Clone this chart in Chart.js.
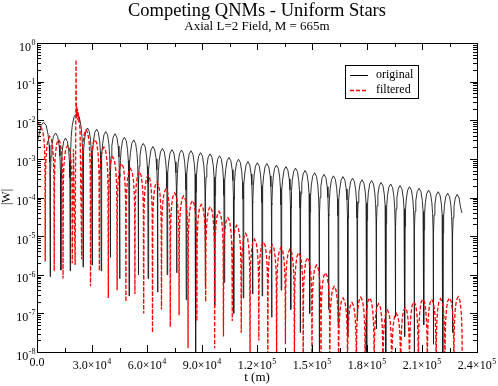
<!DOCTYPE html>
<html>
<head>
<meta charset="utf-8">
<title>Competing QNMs - Uniform Stars</title>
<script src="https://cdn.jsdelivr.net/npm/chart.js@4.4.1/dist/chart.umd.min.js"></script>
<style>
  html, body { margin: 0; padding: 0; background: #fff; }
  #wrap { width: 498px; height: 386px; position: relative; }
</style>
</head>
<body>
<div id="wrap"><canvas id="qnm-chart"></canvas></div>
<script>
// Axis ticks
const xTickValues = [0, 30000, 60000, 90000, 120000, 150000, 180000, 210000, 240000];
const xTickLabels = ['0.0', '3.0×10^4', '6.0×10^4', '9.0×10^4', '1.2×10^5', '1.5×10^5', '1.8×10^5', '2.1×10^5', '2.4×10^5'];
const yTickValues = [1e-8, 1e-7, 1e-6, 1e-5, 1e-4, 1e-3, 1e-2, 1e-1, 1];
const yTickLabels = ['10^-8', '10^-7', '10^-6', '10^-5', '10^-4', '10^-3', '10^-2', '10^-1', '10^0'];

// "original" : nodes of |W| (t), log10 value at each node, log10 value at each hump top
const blackZeros = [0, 7200, 13000, 18100, 25100, 30000, 35000, 40000, 45100, 50200, 55300, 60600, 65800,
  71000, 76200, 81400, 86600, 91800, 97000, 102100, 107300, 112500, 117600, 122800, 128000, 133200,
  138400, 143600, 148800, 154000, 159100, 164300, 169500, 174700, 179900, 185100, 190300, 195500,
  200600, 205800, 211000, 216200, 221400, 226600, 231800];
const blackDips = [-2.6, -6.05, -5.88, -5.9, -5.8, -5.75, -5.9, -5.55, -6.1, -6.55, -6.0, -6.1, -6.45,
  -6.0, -5.95, -6.65, -8.5, -6.3, -6.8, -6.2, -7.0, -6.6, -6.5, -6.55, -7.1, -6.4, -6.9, -7.5, -7.0,
  -8.5, -6.9, -7.3, -7.6, -7.2, -8.5, -7.4, -8.5, -7.1, -7.6, -8.5, -7.3, -7.8, -8.5, -7.5, -4.4];
const blackPeaks = [-2.05, -2.33, -2.46, -1.82, -2.2, -2.23, -2.29, -2.35, -2.44, -2.51, -2.6, -2.68,
  -2.73, -2.76, -2.77, -2.79, -2.84, -2.87, -2.92, -2.96, -3.01, -3.07, -3.1, -3.12, -3.16, -3.2,
  -3.24, -3.3, -3.36, -3.4, -3.44, -3.46, -3.5, -3.54, -3.56, -3.61, -3.65, -3.69, -3.72, -3.76,
  -3.81, -3.85, -3.89, -3.92];

// "filtered" : start, early humps, burst at t ~ 2.1e4, then the later humps
const redHeadT = [0];
const redHeadLog = [-0.8];
const redPreZeros = [300, 4480, 9390, 14200, 19230];
const redPreDips = [-2.05, -5.66, -5.9, -6.1, -5.7];
const redPrePeaks = [-2.2, -2.42, -2.5, -2.65];
const redSpikeT = [19900, 20800, 21300, 21500, 21700, 21900, 22100, 22300, 22500, 22800, 23100, 23500];
const redSpikeLog = [-2.75, -5.75, -0.43, -1.95, -1.65, -1.9, -1.7, -2.0, -1.8, -2.05, -1.95, -2.3];
const redZeros = [24400, 29200, 34000, 38900, 43700, 48500, 53400, 58200, 63000, 67900, 72700, 77500,
  82400, 87200, 92000, 96900, 101700, 106500, 111400, 116200, 121000, 125900, 130700, 135500, 140400,
  145200, 150000, 154900, 159700, 164500, 169400, 174200, 179000, 183900, 188700, 193500, 198400,
  203200, 208000, 212900, 217700, 222500, 227400, 232000];
const redDips = [-5.6, -6.3, -5.9, -6.6, -6.4, -6.7, -6.5, -7.0, -7.5, -6.9, -7.35, -7.05, -7.9, -7.2,
  -6.7, -7.9, -7.6, -7.2, -7.5, -8.5, -7.7, -8.5, -8.5, -7.8, -8.5, -8.5, -8.5, -8.5, -8.5, -8.5,
  -8.5, -8.5, -8.5, -8.5, -8.5, -8.5, -8.5, -8.5, -8.5, -8.5, -8.5, -8.5, -8.5, -8.5];
const redPeaks = [-2.25, -2.5, -2.7, -2.95, -3.12, -3.25, -3.33, -3.42, -3.6, -3.78, -3.88, -3.96,
  -4.08, -4.18, -4.24, -4.36, -4.52, -4.72, -4.93, -5.08, -5.15, -5.23, -5.29, -5.34, -5.43, -5.56,
  -5.75, -5.95, -6.3, -6.6, -6.72, -6.58, -6.6, -6.75, -6.92, -7.0, -6.85, -6.7, -6.63, -6.64,
  -6.62, -6.6, -6.57];

// shape of one hump of |W| on a log axis (fraction of hump width, decades below the top)
const archFrac = [0.03, 0.08, 0.16, 0.3, 0.5, 0.7, 0.84, 0.92, 0.97];
const archDrop = [-1.03, -0.6, -0.32, -0.09, 0, -0.09, -0.32, -0.6, -1.03];

const SERIF = "'Liberation Serif', 'Times New Roman', serif";

function humps(zeros, dips, peaks) {
  const pts = [];
  for (let i = 0; i < peaks.length; i++) {
    const t0 = zeros[i], w = zeros[i + 1] - t0;
    pts.push({x: t0, y: Math.pow(10, dips[i])});
    archFrac.forEach((f, j) => {
      const v = peaks[i] + archDrop[j];
      const edge = f < 0.5 ? dips[i] : dips[i + 1];
      if (f !== 0.5 && v <= edge) return;
      pts.push({x: t0 + f * w, y: Math.pow(10, v)});
    });
  }
  pts.push({x: zeros[zeros.length - 1], y: Math.pow(10, dips[dips.length - 1])});
  return pts;
}

function listPoints(ts, logs) {
  return ts.map((t, i) => ({x: t, y: Math.pow(10, logs[i])}));
}

const originalData = humps(blackZeros, blackDips, blackPeaks);
const filteredData = [].concat(
  listPoints(redHeadT, redHeadLog),
  humps(redPreZeros, redPreDips, redPrePeaks),
  listPoints(redSpikeT, redSpikeLog),
  humps(redZeros, redDips, redPeaks)
);

// label with optional superscript part after '^'
function drawSupLabel(ctx, text, x, y, align, size) {
  const parts = text.split('^');
  ctx.font = size + 'px ' + SERIF;
  const wMain = ctx.measureText(parts[0]).width;
  let wSup = 0;
  if (parts[1]) {
    ctx.font = Math.round(size * 0.68) + 'px ' + SERIF;
    wSup = ctx.measureText(parts[1]).width + 0.5;
  }
  const total = wMain + wSup;
  let left = x;
  if (align === 'center') left = x - total / 2;
  if (align === 'right') left = x - total;
  ctx.textAlign = 'left';
  ctx.textBaseline = 'alphabetic';
  ctx.font = size + 'px ' + SERIF;
  ctx.fillText(parts[0], left, y);
  if (parts[1]) {
    ctx.font = Math.round(size * 0.68) + 'px ' + SERIF;
    ctx.fillText(parts[1], left + wMain + 0.5, y - size * 0.45);
  }
}

const framePlugin = {
  id: 'graceFrame',
  afterDraw(chart) {
    const ctx = chart.ctx;
    const a = chart.chartArea;
    const xs = chart.scales.x, ys = chart.scales.y;
    ctx.save();
    ctx.strokeStyle = '#000';
    ctx.fillStyle = '#000';
    ctx.lineWidth = 1;

    // frame
    ctx.strokeRect(Math.round(a.left) + 0.5, Math.round(a.top) + 0.5,
      Math.round(a.right - a.left), Math.round(a.bottom - a.top));

    // ticks pointing inwards on all four sides
    ctx.beginPath();
    const xMinor = [];
    for (let i = 0; i < xTickValues.length - 1; i++) xMinor.push((xTickValues[i] + xTickValues[i + 1]) / 2);
    const xt = (v, len) => {
      const px = Math.round(xs.getPixelForValue(v)) + 0.5;
      ctx.moveTo(px, a.bottom); ctx.lineTo(px, a.bottom - len);
      ctx.moveTo(px, a.top); ctx.lineTo(px, a.top + len);
    };
    xTickValues.forEach(v => xt(v, 7));
    xMinor.forEach(v => xt(v, 4));
    const yt = (v, len) => {
      const py = Math.round(ys.getPixelForValue(v)) + 0.5;
      ctx.moveTo(a.left, py); ctx.lineTo(a.left + len, py);
      ctx.moveTo(a.right, py); ctx.lineTo(a.right - len, py);
    };
    yTickValues.forEach((v, i) => {
      yt(v, 7);
      if (i < yTickValues.length - 1) {
        for (let m = 2; m <= 9; m++) yt(v * m, 4);
      }
    });
    ctx.stroke();

    // tick labels
    xTickValues.forEach((v, i) => {
      const px = xs.getPixelForValue(v);
      const lab = xTickLabels[i];
      drawSupLabel(ctx, lab, px, a.bottom + (lab.includes('^') ? 17 : 14), 'center', 12);
    });
    yTickValues.forEach((v, i) => {
      const py = ys.getPixelForValue(v);
      drawSupLabel(ctx, yTickLabels[i], a.left - 1.5, py + 7.5, 'right', 12);
    });

    // titles
    const cx = (a.left + a.right) / 2;
    ctx.textAlign = 'center';
    ctx.textBaseline = 'alphabetic';
    ctx.font = '18.5px ' + SERIF;
    ctx.fillText('Competing QNMs - Uniform Stars', cx, 16);
    ctx.font = '13px ' + SERIF;
    ctx.fillText('Axial L=2 Field, M = 665m', cx, 30);
    ctx.textBaseline = 'middle';
    ctx.fillText('t (m)', cx, 378);
    ctx.save();
    ctx.translate(7, 197);
    ctx.rotate(-Math.PI / 2);
    ctx.font = '12px ' + SERIF;
    ctx.fillText('|W|', 0, 0);
    ctx.restore();

    // legend box
    ctx.strokeRect(345.5, 65.5, 73, 33);
    ctx.font = '12px ' + SERIF;
    ctx.textAlign = 'left';
    ctx.beginPath();
    ctx.moveTo(350, 75.5); ctx.lineTo(368, 75.5);
    ctx.stroke();
    ctx.fillText(chart.data.datasets[0].label, 376, 75);
    ctx.strokeStyle = '#ff0000';
    ctx.lineWidth = 1.3;
    ctx.setLineDash([4, 2]);
    ctx.beginPath();
    ctx.moveTo(350, 90.5); ctx.lineTo(368, 90.5);
    ctx.stroke();
    ctx.setLineDash([]);
    ctx.fillText(chart.data.datasets[1].label, 376, 90);
    ctx.restore();
  }
};

const chartCon = document.getElementById('qnm-chart');
const qnmChart = new Chart(chartCon, {
  type: 'line',
  data: {
    datasets: [
      {
        label: 'original',
        data: originalData,
        borderColor: '#1a1a1a',
        borderWidth: 0.9,
        pointRadius: 0,
        tension: 0,
        order: 1
      },
      {
        label: 'filtered',
        data: filteredData,
        borderColor: '#ff0000',
        borderWidth: 1.3,
        borderDash: [4, 2],
        pointRadius: 0,
        tension: 0,
        order: 0
      }
    ]
  },
  options: {
    responsive: true,
    maintainAspectRatio: false,
    animation: false,
    devicePixelRatio: 1,
    layout: {padding: {left: 37, right: 21, top: 43, bottom: 34}},
    plugins: {legend: {display: false}, tooltip: {enabled: false}},
    scales: {
      x: {type: 'linear', min: 0, max: 240000, display: false},
      y: {type: 'logarithmic', min: 1e-8, max: 1, display: false}
    }
  },
  plugins: [framePlugin]
});
</script>
</body>
</html>
